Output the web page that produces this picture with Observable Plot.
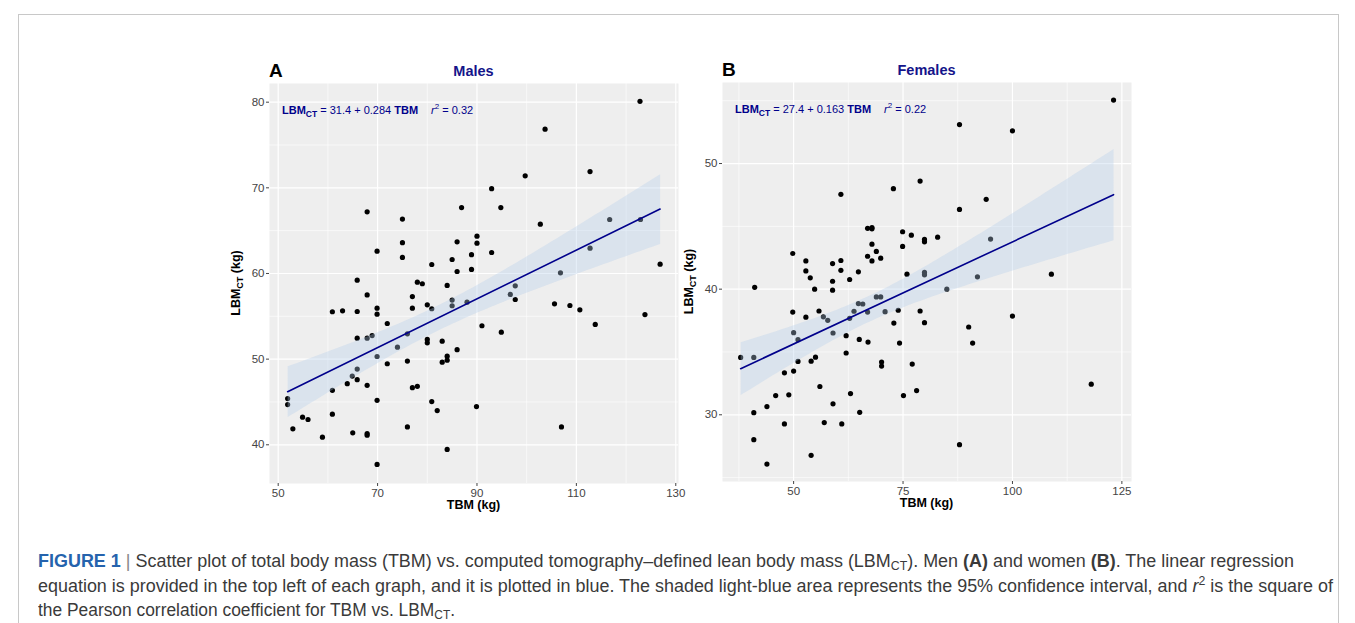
<!DOCTYPE html>
<html><head><meta charset="utf-8">
<script src="https://cdn.jsdelivr.net/npm/d3@7"></script>
<script src="https://cdn.jsdelivr.net/npm/@observablehq/plot@0.6"></script>
<style>
body{margin:0;background:#fff;font-family:"Liberation Sans",Arial,sans-serif;}
#fig{position:relative;width:1355px;height:623px;overflow:hidden;background:#fff}
.frame{position:absolute;left:18px;top:14px;width:1319px;height:700px;border:1px solid #c8c8c8;}
.panel{position:absolute;}
.cap{position:absolute;left:38px;font-family:"Liberation Sans Narrow","Liberation Sans",Arial,sans-serif;font-size:17.5px;line-height:18px;color:#3a3a3a;white-space:nowrap;transform-origin:0 0;}
.cap sub{font-size:12px;vertical-align:-3px;line-height:0}
.cap sup{font-size:12px;vertical-align:7px;line-height:0}
.cap .fig{color:#2563ad;font-weight:bold}
.cap .bar{color:#888}
</style></head><body>
<div id="fig"><div class="frame"></div>
<div id="left" class="panel" style="left:200px;top:40px"></div>
<div id="right" class="panel" style="left:653px;top:40px"></div>
<div class="cap" id="c1" style="top:552px"><span class="fig">FIGURE 1</span> <span class="bar">|</span> Scatter plot of total body mass (TBM) vs. computed tomography–defined lean body mass (LBM<sub>CT</sub>). Men <b>(A)</b> and women <b>(B)</b>. The linear regression</div>
<div class="cap" id="c2" style="top:577px">equation is provided in the top left of each graph, and it is plotted in blue. The shaded light-blue area represents the 95% confidence interval, and <i>r</i><sup>2</sup> is the square of</div>
<div class="cap" id="c3" style="top:601px">the Pearson correlation coefficient for TBM vs. LBM<sub>CT</sub>.</div>
</div>
<script>
// ---- Males (panel A) ----
const maleTBM = [122.8,103.7,112.75,99.7,92.95,86.9,94.8,67.9,75.0,116.7,122.9,102.75,90.0,75.0,86.0,90.0,112.75,69.9,92.95,88.9,75.0,85.0,80.9,126.85,86.0,88.9,106.8,65.9,78.0,79.0,84.0,97.7,96.7,97.7,67.9,77.0,85.0,85.0,88.0,80.0,80.9,69.9,69.9,77.0,60.9,62.95,65.9,105.6,108.7,110.7,123.8,71.95,91.0,94.9,113.8,76.0,65.9,67.9,68.9,80.0,80.0,83.0,74.0,86.0,69.9,71.95,76.0,83.0,84.0,84.0,65.9,64.9,65.9,63.9,67.9,60.9,77.0,78.0,51.9,51.9,69.9,80.9,82.0,89.9,54.9,56.0,60.9,52.95,58.9,65.0,67.9,67.9,76.0,107.0,84.0,69.9];
const maleLBM = [80.1,76.85,71.9,71.4,69.9,67.7,67.7,67.2,66.35,66.3,66.3,65.76,64.36,63.6,63.7,63.54,62.96,62.6,62.45,62.2,61.87,61.63,61.05,61.09,60.23,60.47,60.08,59.22,58.99,58.8,58.6,58.56,57.55,56.96,57.5,57.3,56.89,56.23,56.65,56.34,55.88,55.95,55.25,55.95,55.53,55.64,55.56,56.46,56.26,55.76,55.2,54.16,53.9,53.15,54.05,52.95,52.45,52.45,52.75,52.3,51.9,52.1,51.4,51.1,50.31,49.46,49.77,49.65,50.35,49.88,48.84,48.02,47.6,47.13,46.94,46.36,46.67,46.82,45.39,44.69,45.19,45.04,43.99,44.46,43.22,42.95,43.57,41.86,40.89,41.4,41.32,41.12,42.09,42.09,39.46,37.71];
// ---- Females (panel B) ----
const femaleTBM = [123.1,87.9,100.0,78.9,72.8,60.8,94.0,87.9,66.9,67.9,67.9,74.9,76.9,79.9,79.9,82.9,95.0,67.9,68.9,66.9,67.9,69.9,74.9,49.8,52.8,52.8,53.8,54.8,58.9,60.8,60.8,58.9,58.9,62.8,64.8,75.9,79.9,79.9,92.0,108.9,85.0,41.1,49.8,55.8,56.8,57.8,52.8,62.8,63.8,64.8,65.8,66.9,68.9,69.9,70.9,73.9,78.9,72.9,79.9,100.0,90.0,90.9,50.0,51.0,59.0,62.0,65.0,67.0,74.2,62.0,37.9,40.9,51.0,54.0,55.0,50.0,47.9,70.1,70.1,77.1,56.0,45.9,48.9,63.0,75.1,78.1,118.0,43.9,40.9,59.0,65.1,47.9,57.0,61.0,40.9,87.9,54.0,43.9];
const femaleLBM = [55.05,53.1,52.6,48.6,48.0,47.55,47.15,46.35,44.84,44.9,44.8,44.57,44.3,43.96,43.77,44.14,43.99,43.58,43.0,42.62,42.25,42.47,43.4,42.84,42.25,41.45,40.9,40.0,42.04,42.28,41.5,40.63,39.92,40.77,41.38,41.19,41.33,41.14,40.98,41.19,40.0,40.15,38.18,38.26,37.8,37.52,37.77,37.68,38.24,38.85,38.82,38.18,39.38,39.38,38.21,38.32,38.26,37.3,37.33,37.86,36.99,35.71,36.54,35.98,36.51,36.3,36.0,35.79,35.71,34.92,34.57,34.57,34.25,34.27,34.59,33.48,33.34,34.2,33.88,34.04,32.25,31.53,31.59,31.69,31.53,31.93,32.44,30.65,30.17,30.87,30.2,29.27,29.38,29.27,28.02,27.62,26.77,26.08];

// axis ticks
const maleXTicks = [50,70,90,110,130];
const maleXMinor = [60,80,100,120];
const maleYTicks = [40,50,60,70,80];
const maleYMinor = [45,55,65,75];
const femaleXTicks = [50,75,100,125];
const femaleXMinor = [37.5,62.5,87.5,112.5];
const femaleYTicks = [30,40,50];
const femaleYMinor = [25,35,45,55];

// labels
const panelLetters = ["A","B"];
const panelTitles = ["Males","Females"];
const eqIntercepts = ["31.4","27.4"];
const eqSlopes = ["0.284","0.163"];
const eqR2 = ["0.32","0.22"];
const xTitle = "TBM (kg)";

const NAVY = "#00008b";
const TITLE = "#14148a";
const FONT = "'Liberation Sans', Arial, sans-serif";

function panel(el, cfg, i) {
  const data = cfg.tbm.map((t, k) => ({tbm: t, lbm: cfg.lbm[k]}));
  const W = cfg.mL + cfg.pw + cfg.mR, H = cfg.mT + cfg.ph + cfg.mB;
  const chart = Plot.plot({
    width: W, height: H,
    marginLeft: cfg.mL, marginRight: cfg.mR, marginTop: cfg.mT, marginBottom: cfg.mB,
    style: {background: "transparent", fontFamily: FONT, fontSize: "11.5px", overflow: "visible"},
    x: {domain: cfg.xDomain},
    y: {domain: cfg.yDomain},
    marks: [
      Plot.frame({fill: "#eeeeee", stroke: null}),
      Plot.gridX(cfg.xMinor, {stroke: "white", strokeOpacity: 1, strokeWidth: 0.6}),
      Plot.gridY(cfg.yMinor, {stroke: "white", strokeOpacity: 1, strokeWidth: 0.6}),
      Plot.gridX(cfg.xTicks, {stroke: "white", strokeOpacity: 1, strokeWidth: 1.2}),
      Plot.gridY(cfg.yTicks, {stroke: "white", strokeOpacity: 1, strokeWidth: 1.2}),
      Plot.axisX(cfg.xTicks, {tickSize: 3, tickPadding: 2, color: "#444", fontSize: 11.5, label: null}),
      Plot.axisY(cfg.yTicks, {tickSize: 3, tickPadding: 2, color: "#444", fontSize: 11.5, label: null}),
      Plot.dot(data, {x: "tbm", y: "lbm", r: 2.6, fill: "black", stroke: null}),
      Plot.linearRegressionY(data, {x: "tbm", y: "lbm", stroke: NAVY, strokeWidth: 1.6, fill: "#b4cfec", fillOpacity: 0.35})
    ]
  });
  const svg = d3.select(chart);
  // panel letter
  svg.append("text").attr("x", cfg.mL).attr("y", cfg.mT - 6).attr("text-anchor", "start")
    .attr("font-size", 19).attr("font-weight", "bold").attr("fill", "black").attr("font-family", FONT)
    .text(panelLetters[i]);
  // title
  svg.append("text").attr("x", cfg.mL + cfg.pw / 2).attr("y", cfg.mT - 7).attr("text-anchor", "middle")
    .attr("font-size", 14.5).attr("font-weight", "bold").attr("fill", TITLE).attr("font-family", FONT)
    .text(panelTitles[i]);
  // equation
  const eq = svg.append("text").attr("x", cfg.mL + cfg.eqDx).attr("y", cfg.mT + cfg.eqDy).attr("text-anchor", "start")
    .attr("font-size", 11).attr("fill", NAVY).attr("font-family", FONT);
  eq.append("tspan").attr("font-weight", "bold").text("LBM");
  eq.append("tspan").attr("font-weight", "bold").attr("font-size", 8.5).attr("dy", 3).text("CT");
  eq.append("tspan").attr("dy", -3).text(` = ${eqIntercepts[i]} + ${eqSlopes[i]} `);
  eq.append("tspan").attr("font-weight", "bold").text("TBM");
  eq.append("tspan").attr("font-style", "italic").attr("dx", 13).text("r");
  eq.append("tspan").attr("font-size", 8).attr("dy", -5).text("2");
  eq.append("tspan").attr("dy", 5).text(` = ${eqR2[i]}`);
  // y title
  const yt = svg.append("text").attr("transform", `translate(${cfg.mL - 29},${cfg.mT + cfg.ph / 2}) rotate(-90)`)
    .attr("text-anchor", "middle").attr("font-size", 12.5).attr("font-weight", "bold").attr("fill", "black").attr("font-family", FONT);
  yt.append("tspan").text("LBM");
  yt.append("tspan").attr("font-size", 9).attr("dy", 3).text("CT");
  yt.append("tspan").attr("dy", -3).text(" (kg)");
  // x title
  svg.append("text").attr("x", cfg.mL + cfg.pw / 2).attr("y", cfg.mT + cfg.ph + 26).attr("text-anchor", "middle")
    .attr("font-size", 12.5).attr("font-weight", "bold").attr("fill", "black").attr("font-family", FONT)
    .text(xTitle);
  el.appendChild(chart);
}

panel(document.getElementById("left"), {
  tbm: maleTBM, lbm: maleLBM, xTicks: maleXTicks, xMinor: maleXMinor, yTicks: maleYTicks, yMinor: maleYMinor,
  xDomain: [48.25, 130.55], yDomain: [35.48, 82.18],
  mL: 69, mT: 43, pw: 409, ph: 400, mR: 14, mB: 40, eqDx: 13, eqDy: 31
}, 0);
panel(document.getElementById("right"), {
  tbm: femaleTBM, lbm: femaleLBM, xTicks: femaleXTicks, xMinor: femaleXMinor, yTicks: femaleYTicks, yMinor: femaleYMinor,
  xDomain: [33.75, 127.2], yDomain: [24.69, 56.45],
  mL: 69, mT: 42, pw: 409, ph: 399, mR: 14, mB: 42, eqDx: 13, eqDy: 31
}, 1);

// fit caption lines to the reference widths
[["c1", 1256], ["c2", 1295], ["c3", 417]].forEach(([id, w]) => {
  const el = document.getElementById(id);
  const cw = el.getBoundingClientRect().width;
  el.style.transform = `scaleX(${w / cw})`;
});
</script>
</body></html>
